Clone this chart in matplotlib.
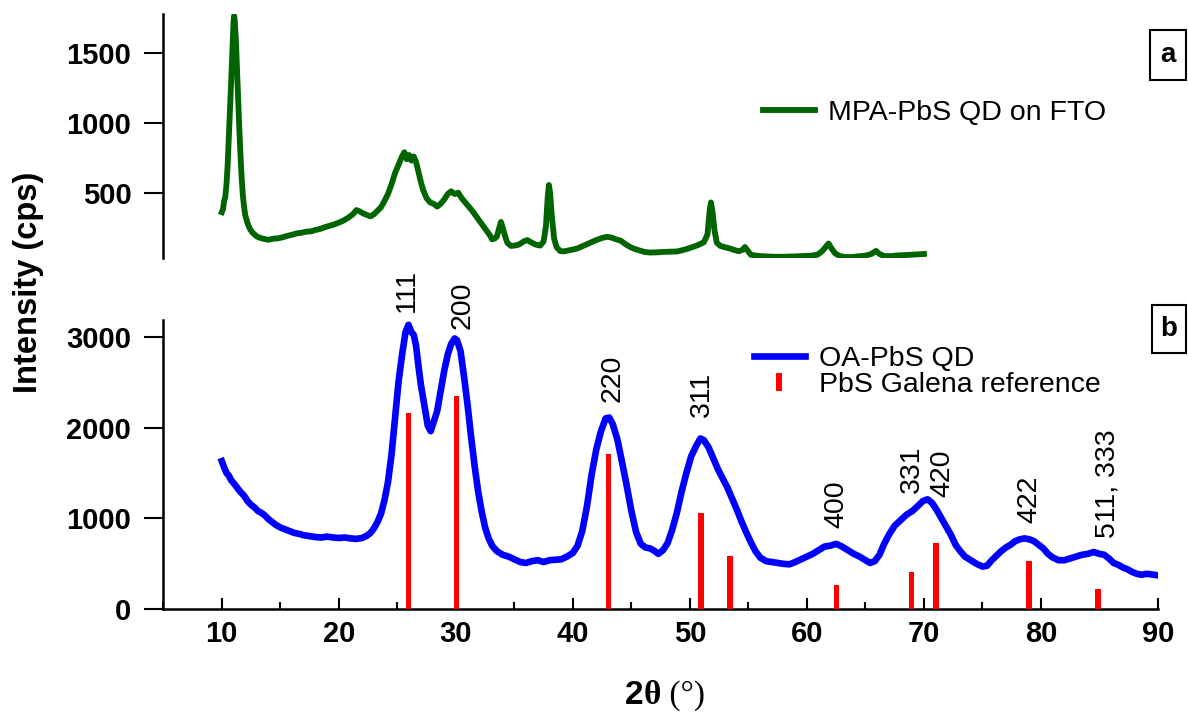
import matplotlib
matplotlib.use("Agg")
import matplotlib.pyplot as plt
from matplotlib.lines import Line2D
from matplotlib.patches import Rectangle
from matplotlib.ticker import MultipleLocator

plt.rcParams['font.family'] = ['Liberation Sans', 'DejaVu Sans']

# ---- (a) MPA-PbS QD film on FTO ----
mpa_2theta = [10.0, 10.1, 10.2, 10.3, 10.4, 10.5, 10.6, 10.7, 10.8, 10.9, 11.0, 11.05, 11.1, 11.2,
              11.3, 11.4, 11.5, 11.6, 11.7, 11.8, 11.9, 12.0, 12.2, 12.4, 12.6, 12.8, 13.0, 13.3,
              13.6, 14.0, 14.4, 14.8, 15.2, 15.6, 16.0, 16.4, 16.8, 17.2, 17.6, 18.0, 18.4, 18.8,
              19.2, 19.6, 20.0, 20.4, 20.8, 21.2, 21.5, 21.8, 22.1, 22.4, 22.7, 23.0, 23.3, 23.6,
              23.9, 24.2, 24.5, 24.8, 25.1, 25.4, 25.6, 25.8, 26.0, 26.2, 26.4, 26.6, 26.8, 27.0,
              27.2, 27.5, 27.8, 28.1, 28.4, 28.7, 29.0, 29.3, 29.6, 29.9, 30.2, 30.5, 30.8, 31.1,
              31.4, 31.7, 32.0, 32.3, 32.6, 32.9, 33.1, 33.3, 33.5, 33.7, 33.85, 34.0, 34.2, 34.4,
              34.7, 35.0, 35.4, 35.8, 36.1, 36.4, 36.8, 37.2, 37.5, 37.7, 37.85, 37.95, 38.05, 38.2,
              38.4, 38.6, 38.9, 39.2, 39.6, 40.0, 40.4, 40.8, 41.2, 41.6, 42.0, 42.5, 42.9, 43.3,
              43.7, 44.1, 44.5, 44.9, 45.3, 45.7, 46.1, 46.6, 47.2, 47.8, 48.4, 48.9, 49.4, 49.9,
              50.4, 50.8, 51.2, 51.5, 51.7, 51.8, 51.95, 52.1, 52.3, 52.6, 53.0, 53.4, 53.8, 54.2,
              54.5, 54.7, 54.9, 55.2, 55.6, 56.0, 56.6, 57.2, 58.0, 58.8, 59.6, 60.4, 60.9, 61.3,
              61.6, 61.85, 62.1, 62.4, 62.8, 63.3, 63.8, 64.5, 65.0, 65.5, 65.9, 66.2, 66.6, 67.2,
              67.8, 68.4, 69.0, 69.5, 70.0]
mpa_counts = [360, 380, 440, 470, 560, 700, 900, 1090, 1300, 1520, 1720, 1770, 1740, 1600,
              1380, 1170, 950, 760, 600, 480, 400, 340, 280, 240, 215, 200, 185, 175,
              168, 162, 170, 172, 180, 190, 198, 208, 212, 220, 222, 232, 240, 252,
              262, 272, 285, 300, 320, 345, 375, 365, 350, 340, 330, 345, 370, 395,
              440, 490, 560, 640, 700, 760, 790, 740, 770, 730, 760, 720, 650, 580,
              520, 460, 430, 420, 400, 420, 450, 490, 510, 490, 500, 460, 430, 400,
              370, 335, 300, 265, 230, 195, 165, 170, 185, 245, 290, 250, 190, 140,
              118, 120, 128, 150, 160, 145, 128, 120, 150, 260, 470, 555, 500, 330,
              170, 110, 82, 78, 85, 92, 100, 115, 130, 145, 160, 175, 183, 178,
              165, 155, 130, 110, 95, 85, 75, 70, 72, 75, 77, 78, 88, 100,
              115, 128, 145, 200, 380, 430, 350, 230, 140, 118, 108, 100, 88, 80,
              90, 110, 88, 55, 48, 45, 42, 40, 40, 42, 45, 48, 55, 80,
              110, 135, 100, 65, 45, 38, 38, 44, 48, 60, 82, 60, 45, 45,
              50, 52, 55, 58, 60]

# ---- (b) OA-PbS QD powder ----
oa_2theta = [10.0, 10.2, 10.4, 10.6, 10.8, 11.0, 11.3, 11.6, 11.9, 12.2, 12.5, 12.8, 13.1, 13.4,
             13.7, 14.0, 14.3, 14.6, 15.0, 15.4, 15.8, 16.2, 16.6, 17.0, 17.5, 18.0, 18.5, 19.0,
             19.5, 20.0, 20.5, 21.0, 21.5, 22.0, 22.4, 22.7, 23.0, 23.3, 23.6, 23.9, 24.2, 24.5,
             24.8, 25.1, 25.4, 25.7, 25.95, 26.2, 26.4, 26.6, 26.8, 27.0, 27.3, 27.6, 27.85, 28.1,
             28.4, 28.7, 29.0, 29.3, 29.6, 29.9, 30.1, 30.4, 30.7, 31.0, 31.3, 31.6, 31.9, 32.2,
             32.5, 32.8, 33.1, 33.5, 34.0, 34.5, 35.0, 35.5, 36.0, 36.5, 37.0, 37.5, 38.0, 38.5,
             39.0, 39.5, 40.0, 40.4, 40.8, 41.2, 41.6, 42.0, 42.4, 42.8, 43.1, 43.4, 43.8, 44.2,
             44.6, 45.0, 45.4, 45.8, 46.2, 46.6, 47.0, 47.3, 47.7, 48.1, 48.5, 48.9, 49.3, 49.7,
             50.1, 50.5, 50.9, 51.2, 51.6, 52.0, 52.4, 52.8, 53.2, 53.6, 54.0, 54.4, 54.8, 55.2,
             55.6, 56.0, 56.5, 57.0, 57.5, 58.0, 58.5, 59.0, 59.5, 60.0, 60.5, 61.0, 61.5, 62.0,
             62.5, 63.0, 63.5, 64.0, 64.5, 65.0, 65.4, 65.8, 66.2, 66.6, 67.0, 67.5, 68.0, 68.5,
             69.0, 69.5, 69.9, 70.3, 70.7, 71.1, 71.5, 71.9, 72.3, 72.7, 73.1, 73.5, 74.0, 74.5,
             75.0, 75.4, 75.8, 76.2, 76.6, 77.0, 77.4, 77.8, 78.2, 78.6, 79.0, 79.4, 79.8, 80.2,
             80.6, 81.0, 81.5, 82.0, 82.5, 83.0, 83.5, 84.0, 84.5, 85.0, 85.4, 85.8, 86.2, 86.6,
             87.0, 87.4, 87.8, 88.2, 88.6, 89.0, 89.4, 89.9]
oa_counts = [1630, 1560, 1500, 1470, 1420, 1390, 1340, 1290, 1250, 1190, 1150, 1120, 1080, 1060,
             1030, 990, 960, 930, 900, 880, 860, 840, 830, 815, 805, 795, 790, 800,
             790, 785, 790, 780, 775, 785, 810, 840, 890, 960, 1050, 1200, 1400, 1700,
             2100, 2500, 2800, 3050, 3130, 3050, 3020, 2900, 2680, 2480, 2250, 2020, 1960, 2060,
             2180, 2400, 2620, 2800, 2920, 2980, 2960, 2840, 2560, 2250, 1900, 1580, 1300, 1080,
             900, 780, 700, 640, 600, 580, 550, 520, 510, 530, 540, 520, 540, 545,
             550, 580, 620, 700, 860, 1130, 1480, 1760, 1960, 2100, 2110, 2040, 1870, 1620,
             1360, 1080, 850, 720, 680, 670, 640, 610, 650, 730, 880, 1070, 1300, 1500,
             1680, 1790, 1880, 1860, 1780, 1660, 1540, 1440, 1340, 1220, 1100, 970, 850, 740,
             640, 570, 530, 520, 510, 500, 495, 520, 550, 580, 610, 650, 690, 700,
             720, 690, 650, 610, 580, 540, 510, 530, 600, 720, 820, 920, 980, 1040,
             1080, 1140, 1190, 1210, 1170, 1090, 1000, 910, 820, 710, 640, 580, 540, 500,
             470, 480, 540, 590, 640, 680, 710, 750, 770, 780, 770, 750, 710, 670,
             610, 570, 540, 540, 560, 580, 600, 610, 630, 610, 600, 560, 510, 490,
             460, 440, 410, 390, 380, 390, 385, 375]

# PbS galena reference reflections
ref_2theta = [25.96, 30.07, 43.05, 50.97, 53.42, 62.54, 68.92, 71.02, 78.98, 84.88]
ref_counts = [2160, 2350, 1710, 1055, 590, 267, 415, 725, 530, 225]

# Miller-index labels: text, 2theta of label, intensity at label foot
hkl_text = ["111", "200", "220", "311", "400", "331", "420", "422", "511, 333"]
hkl_2theta = [25.85, 30.55, 43.4, 51.0, 62.5, 68.95, 71.55, 79.0, 85.65]
hkl_base = [3270, 3085, 2282, 2117, 895, 1280, 1236, 950, 785]

x_ticks = [10, 20, 30, 40, 50, 60, 70, 80, 90]
ya_ticks = [500, 1000, 1500]
yb_ticks = [0, 1000, 2000, 3000]

GREEN = "#006400"
BLUE = "#0000FF"
RED = "#FF0000"
W, H = 1188, 712

fig = plt.figure(figsize=(W / 100, H / 100), dpi=100)
ax_a = fig.add_axes([163.3 / W, 1 - 258.3 / H, (1158 - 163.3) / W, (258.3 - 14) / H])
ax_b = fig.add_axes([163.3 / W, 1 - 609.3 / H, (1158 - 163.3) / W, (609.3 - 320) / H])

tick_font = dict(fontsize=21, fontweight='bold')

# panel a
ax_a.plot(mpa_2theta, mpa_counts, color=GREEN, lw=4.2, solid_joinstyle='round')
ax_a.set_xlim(5, 90)
ax_a.set_ylim(29, 1782)
for s in ('top', 'right', 'bottom'):
    ax_a.spines[s].set_visible(False)
ax_a.spines['left'].set_linewidth(1.8)
ax_a.set_xticks([])
ax_a.set_yticks(ya_ticks)
ax_a.set_yticklabels([str(v) for v in ya_ticks], **tick_font)
ax_a.tick_params(axis='y', direction='out', length=14, width=1.5, pad=9)

# panel b
ax_b.bar(ref_2theta, ref_counts, width=0.48, color=RED, zorder=3)
ax_b.plot(oa_2theta, oa_counts, color=BLUE, lw=4.8, solid_joinstyle='round', zorder=2)
ax_b.set_xlim(5, 90)
ax_b.set_ylim(0, 3183)
for s in ('top', 'right'):
    ax_b.spines[s].set_visible(False)
for s in ('left', 'bottom'):
    ax_b.spines[s].set_linewidth(1.8)
ax_b.set_xticks(x_ticks)
ax_b.set_xticklabels([str(v) for v in x_ticks], **tick_font)
ax_b.xaxis.set_minor_locator(MultipleLocator(5))
ax_b.set_yticks(yb_ticks)
ax_b.set_yticklabels([str(v) for v in yb_ticks], **tick_font)
ax_b.tick_params(axis='y', direction='out', length=14, width=1.5, pad=9)
ax_b.tick_params(axis='x', which='major', direction='in', length=8, width=1.5, pad=8)
ax_b.tick_params(axis='x', which='minor', direction='in', length=5, width=1.5)

for txt, xx, yy in zip(hkl_text, hkl_2theta, hkl_base):
    ax_b.text(xx, yy, txt, rotation=90, ha='center', va='bottom', fontsize=20.5, clip_on=False)

# legends
leg_a = ax_a.legend(handles=[Line2D([], [], color=GREEN, lw=4.2)], labels=["MPA-PbS QD on FTO"],
                    loc='center left', bbox_to_anchor=(763.5 / W, 1 - 113 / H),
                    bbox_transform=fig.transFigure, frameon=False, fontsize=20.5,
                    handlelength=1.8, handletextpad=0.45, borderpad=0, borderaxespad=0)
leg_b = ax_b.legend(handles=[Line2D([], [], color=BLUE, lw=4.8),
                             Line2D([], [], color=RED, marker='|', ls='none', ms=13, mew=4.3)],
                    labels=["OA-PbS QD", "PbS Galena reference"],
                    loc='center left', bbox_to_anchor=(753.5 / W, 1 - 372 / H),
                    bbox_transform=fig.transFigure, frameon=False, fontsize=20.5,
                    handlelength=1.8, handletextpad=0.5, borderpad=0, borderaxespad=0,
                    labelspacing=0.0)

# panel letters in boxes
for letter, (x0, y0, x1, y1) in (("a", (1150, 30, 1186, 80)), ("b", (1152, 305, 1186, 353))):
    fig.add_artist(Rectangle((x0 / W, 1 - y1 / H), (x1 - x0) / W, (y1 - y0) / H,
                             transform=fig.transFigure, fill=False, lw=1.5, ec='black'))
    fig.text((x0 + x1) / 2 / W, 1 - (y0 + y1) / 2 / H, letter, ha='center', va='center',
             fontsize=20, fontweight='bold')

# axis titles
fig.text(29 / W, 1 - 282 / H, "Intensity (cps)", rotation=90, ha='center', va='center',
         fontsize=23.5, fontweight='bold')
t1 = fig.text(625 / W, 1 - 704 / H, "2", fontsize=24, fontweight='bold', va='baseline')
t2 = ax_b.annotate("\u03b8", xy=(1, 0), xycoords=t1, va='bottom', ha='left', fontsize=24,
                   fontweight='bold', family='Liberation Serif')
ax_b.annotate(" (\u00b0)", xy=(1, 0), xycoords=t2, va='bottom', ha='left', fontsize=24,
              family='Liberation Serif')

fig.savefig("out.png", dpi=100)
